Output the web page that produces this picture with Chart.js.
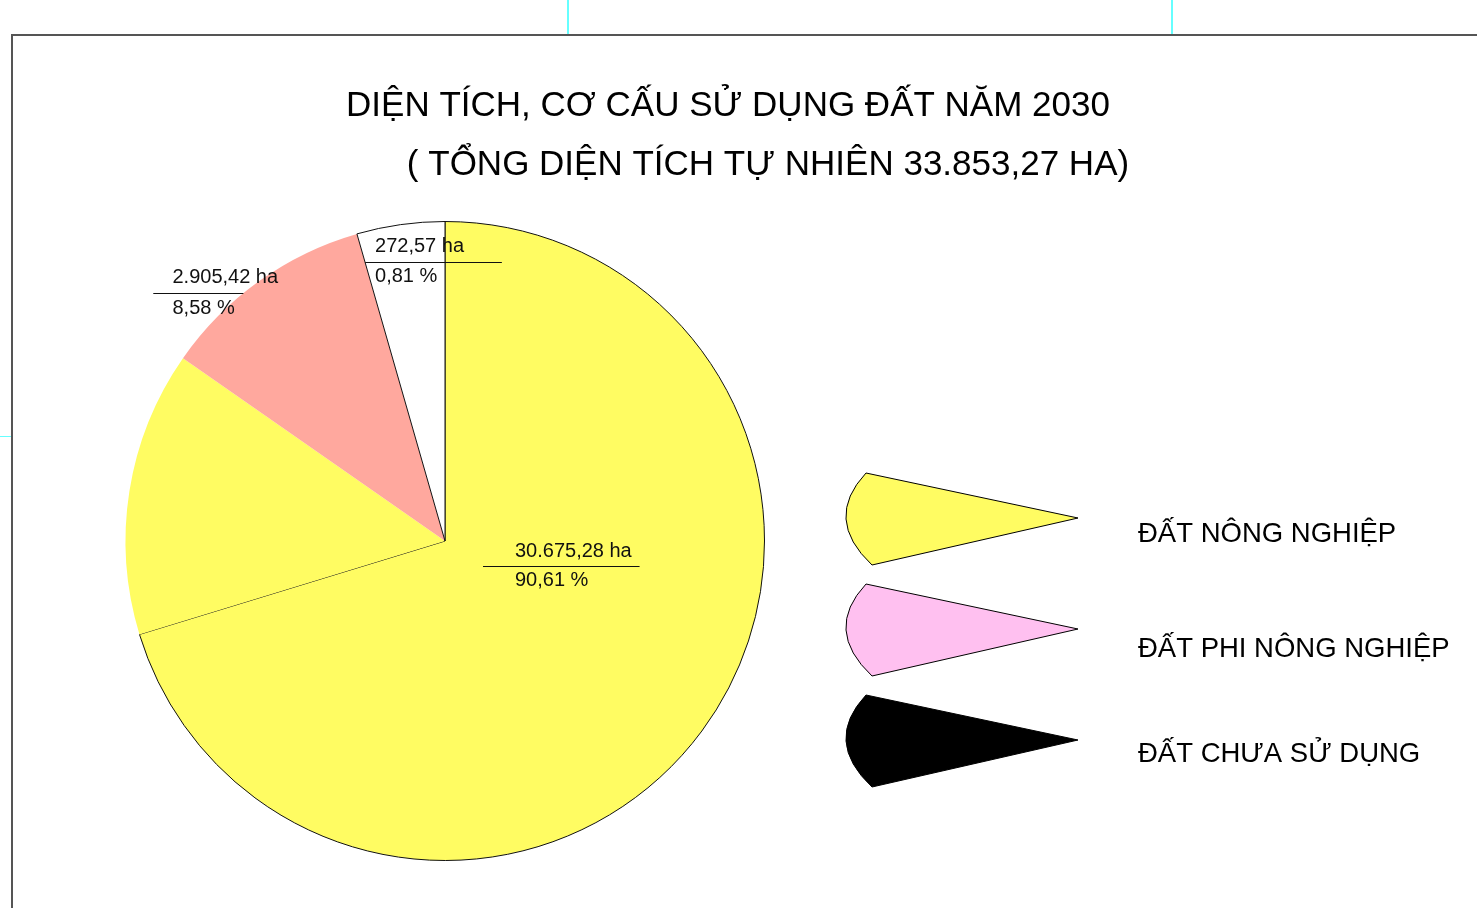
<!DOCTYPE html>
<html>
<head>
<meta charset="utf-8">
<script src="https://cdn.jsdelivr.net/npm/chart.js@4"></script>
<style>
  body { margin: 0; background: #fff; }
  #wrap { position: relative; width: 1477px; height: 908px; overflow: hidden; }
  #frame { position: absolute; left: 11px; top: 34px; width: 1500px; height: 900px; border-left: 2px solid #555; border-top: 2px solid #555; }
  .guide { position: absolute; background: #66ffff; }
  canvas { position: absolute; left: 0; top: 0; }
</style>
</head>
<body>
<div id="wrap">
  <div class="guide" style="left:567px; top:0; width:2px; height:34px"></div>
  <div class="guide" style="left:1171px; top:0; width:2px; height:34px"></div>
  <div class="guide" style="left:0; top:436px; width:11px; height:1px"></div>
  <div id="frame"></div>
  <canvas id="landChart" width="1477" height="908"></canvas>
</div>
<script>
// 범주 (legend)
const categories = ['ĐẤT NÔNG NGHIỆP', 'ĐẤT PHI NÔNG NGHIỆP', 'ĐẤT CHƯA SỬ DỤNG'];
const areaHa = [30675.28, 2905.42, 272.57];
const percent = [90.61, 8.58, 0.81];

// slices as drawn in the picture (degrees, clockwise from 12 o'clock)
const sliceCategory = [0, 0, 1, 2];
const sliceDegrees = [253, 51.9, 39.1, 16];

const titleLines = ['DIỆN TÍCH, CƠ CẤU SỬ DỤNG ĐẤT NĂM 2030', '( TỔNG DIỆN TÍCH TỰ NHIÊN 33.853,27 HA)'];

const sliceColors = ['#fffc62', '#fffc62', '#ffa89e', '#ffffff'];
const sliceBorders = [1, 0, 0, 1];
const legendColors = ['#fffc62', '#ffc0f0', '#000000'];

// label placement, in units of the pie radius from its centre
const labelLayout = [
    { x: 0.219, haY: 0.033, lineY: 0.078, lineX: [0.119, 0.609], pctY: 0.123 },
    { x: -0.853, haY: -0.824, lineY: -0.775, lineX: [-0.913, -0.631], pctY: -0.728 },
    { x: -0.219, haY: -0.922, lineY: -0.872, lineX: [-0.25, 0.178], pctY: -0.828 }
];
const legendTextY = [534, 649, 754];

const FONT = '"Liberation Sans", Arial, sans-serif';

function fmt(v) {
    const [i, f] = v.toFixed(2).split('.');
    return i.replace(/\B(?=(\d{3})+(?!\d))/g, '.') + ',' + f;
}

const titlePlugin = {
    id: 'twoLineTitle',
    afterDraw(chart) {
        const ctx = chart.ctx;
        ctx.save();
        ctx.fillStyle = '#000';
        ctx.font = '35px ' + FONT;
        ctx.textAlign = 'center';
        ctx.textBaseline = 'middle';
        ctx.fillText(titleLines[0], 728, 106);
        ctx.fillText(titleLines[1], 768, 165);
        ctx.restore();
    }
};

const pieLabels = {
    id: 'pieLabels',
    afterDatasetsDraw(chart) {
        const arc = chart.getDatasetMeta(0).data[0];
        const cx = arc.x, cy = arc.y, r = arc.outerRadius;
        const ctx = chart.ctx;
        ctx.save();
        ctx.font = '20px ' + FONT;
        ctx.fillStyle = '#111';
        ctx.strokeStyle = '#111';
        ctx.lineWidth = 1;
        ctx.textBaseline = 'middle';
        ctx.textAlign = 'left';
        categories.forEach((c, i) => {
            const l = labelLayout[i];
            ctx.fillText(fmt(areaHa[i]) + ' ha', cx + l.x * r, cy + l.haY * r);
            ctx.fillText(fmt(percent[i]) + ' %', cx + l.x * r, cy + l.pctY * r);
            const ly = Math.round(cy + l.lineY * r) + 0.5;
            ctx.beginPath();
            ctx.moveTo(cx + l.lineX[0] * r, ly);
            ctx.lineTo(cx + l.lineX[1] * r, ly);
            ctx.stroke();
        });
        ctx.restore();
    }
};

// wedge-shaped legend
const wedgeLegend = {
    id: 'wedgeLegend',
    afterDraw(chart) {
        const ctx = chart.ctx;
        ctx.save();
        categories.forEach((c, i) => {
            const tx = 1078, ty = 518 + i * 111;
            ctx.beginPath();
            ctx.moveTo(tx, ty);
            ctx.lineTo(tx - 212, ty - 45);
            ctx.quadraticCurveTo(tx - 255, ty + 1, tx - 206, ty + 47);
            ctx.closePath();
            ctx.fillStyle = legendColors[i];
            ctx.fill();
            ctx.strokeStyle = '#000';
            ctx.lineWidth = 1;
            ctx.stroke();
            ctx.fillStyle = '#000';
            ctx.font = '27.5px ' + FONT;
            ctx.textAlign = 'left';
            ctx.textBaseline = 'middle';
            ctx.fillText(c, 1138, legendTextY[i]);
        });
        ctx.restore();
    }
};

new Chart(document.getElementById('landChart'), {
    type: 'pie',
    data: {
        labels: sliceCategory.map(i => categories[i]),
        datasets: [{
            data: sliceDegrees,
            backgroundColor: sliceColors,
            borderColor: '#111',
            borderWidth: sliceBorders
        }]
    },
    options: {
        responsive: false,
        animation: false,
        events: [],
        layout: { padding: { left: 125, top: 221, right: 712, bottom: 47 } },
        plugins: {
            legend: { display: false },
            title: { display: false },
            tooltip: { enabled: false }
        }
    },
    plugins: [titlePlugin, pieLabels, wedgeLegend]
});
</script>
</body>
</html>
